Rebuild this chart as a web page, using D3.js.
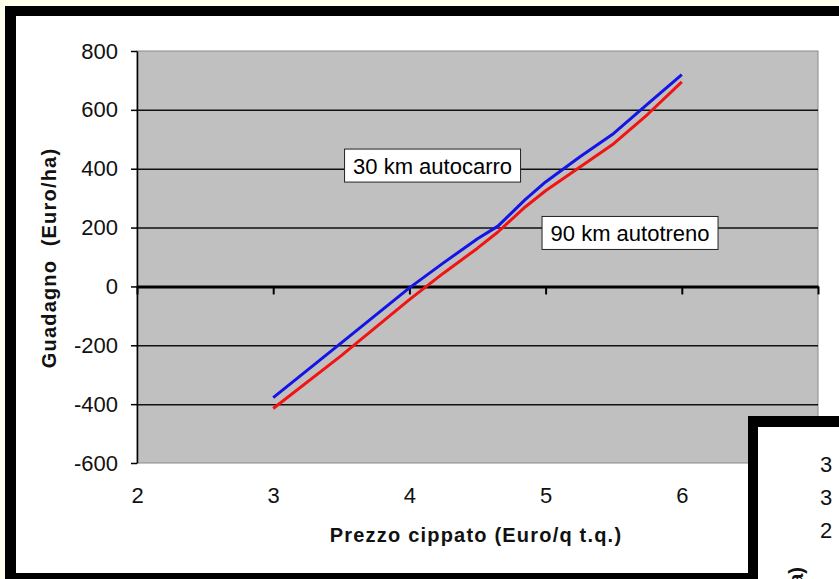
<!DOCTYPE html>
<meta charset="UTF-8">
<title>Guadagno vs prezzo cippato</title>
<style>
  html, body { margin: 0; overflow: hidden; background: #fffdeb; }
  svg { display: block; font-family: "Liberation Sans", Arial, sans-serif; }
</style>
<svg width="839" height="579"></svg>
<script src="https://d3js.org/d3.v7.min.js"></script>
<script>
// prezzo cippato (Euro/q t.q.)
var prezzo = [3, 3.5, 4, 4.25, 4.5, 4.65, 4.85, 5, 5.25, 5.5, 5.75, 6];
// guadagno (Euro/ha)
var km30autocarro = [-378, -192, -5, 80, 162, 205, 295, 355, 440, 520, 620, 720];
var km90autotreno = [-415, -235, -45, 45, 130, 185, 270, 325, 405, 485, 585, 695];

var xTicks = [2, 3, 4, 5, 6, 7];
var xTickLabels = ["2", "3", "4", "5", "6", ""];
var yTicks = [-600, -400, -200, 0, 200, 400, 600, 800];
var gridTicks = [-400, -200, 200, 400, 600];

var seriesNames = ["30 km autocarro", "90 km autotreno"];
// where the text boxes sit, in data units (x, y)
var labelPos = [[4.17, 409], [5.62, 180]];

var svg = d3.select("svg"),
    margin = {top: 51, left: 137},
    width = 681,
    height = 412;

// white card + black frame on top, left and bottom
svg.append("rect").attr("x", 5).attr("y", 6).attr("width", 834).attr("height", 573).attr("fill", "#fff");
svg.append("rect").attr("x", 5).attr("y", 6).attr("width", 834).attr("height", 10).attr("fill", "#000");
svg.append("rect").attr("x", 5).attr("y", 6).attr("width", 11).attr("height", 573).attr("fill", "#000");
svg.append("rect").attr("x", 5).attr("y", 573).attr("width", 834).attr("height", 6).attr("fill", "#000");

var g = svg.append("g").attr("transform", "translate(" + margin.left + "," + margin.top + ")");

var x = d3.scaleLinear().domain([2, 7]).range([0, width]);
var y = d3.scaleLinear().domain([-600, 800]).range([height, 0]);

g.append("rect")
    .attr("width", width)
    .attr("height", height)
    .attr("fill", "#c0c0c0")
    .attr("stroke", "#8a8a8a")
    .attr("stroke-width", 1);

// gridlines
g.append("g")
    .call(d3.axisLeft(y).tickValues(gridTicks).tickSize(-width).tickFormat(""))
    .call(function(s) { s.select(".domain").remove(); })
    .selectAll("line")
      .attr("stroke", "#111")
      .attr("stroke-width", 1.5);

// x axis crossing at 0
var xAxis = g.append("g")
    .attr("transform", "translate(0," + y(0) + ")")
    .call(d3.axisBottom(x).tickValues(xTicks).tickSize(8).tickSizeOuter(0).tickFormat(""));
xAxis.select(".domain").attr("stroke", "#000").attr("stroke-width", 3);
xAxis.selectAll("line").attr("stroke", "#000").attr("stroke-width", 2);

// x tick labels below plot
g.append("g")
    .attr("transform", "translate(0," + height + ")")
    .call(d3.axisBottom(x).tickValues(xTicks).tickSize(0).tickPadding(24)
      .tickFormat(function(d, i) { return xTickLabels[i]; }))
    .call(function(s) { s.select(".domain").remove(); })
    .selectAll("text")
      .attr("font-size", 22)
      .attr("font-family", "'Liberation Sans', Arial, sans-serif")
      .attr("fill", "#111");

// y axis
var yAxis = g.append("g")
    .call(d3.axisLeft(y).tickValues(yTicks).tickSize(6).tickSizeOuter(0).tickPadding(13)
      .tickFormat(function(d) { return String(d); }));
yAxis.select(".domain").attr("stroke", "#000").attr("stroke-width", 1.5);
yAxis.selectAll("line").attr("stroke", "#000").attr("stroke-width", 1.5);
yAxis.selectAll("text")
    .attr("font-size", 22)
    .attr("font-family", "'Liberation Sans', Arial, sans-serif")
    .attr("fill", "#111");

var line = function(vals) {
  return d3.line()
    .x(function(d, i) { return x(prezzo[i]); })
    .y(function(d) { return y(d); })(vals);
};

g.append("path")
    .attr("d", line(km90autotreno))
    .attr("fill", "none")
    .attr("stroke", "#f01414")
    .attr("stroke-width", 3)
    .attr("stroke-linejoin", "round");

g.append("path")
    .attr("d", line(km30autocarro))
    .attr("fill", "none")
    .attr("stroke", "#1414e6")
    .attr("stroke-width", 3)
    .attr("stroke-linejoin", "round");

// series text boxes
seriesNames.forEach(function(name, i) {
  var cx = x(labelPos[i][0]), cy = y(labelPos[i][1]);
  var lg = g.append("g").attr("transform", "translate(" + cx + "," + cy + ")");
  lg.append("rect")
      .attr("x", -88)
      .attr("y", -17)
      .attr("width", 176)
      .attr("height", 33)
      .attr("fill", "#fff")
      .attr("stroke", "#222")
      .attr("stroke-width", 1);
  lg.append("text")
      .attr("text-anchor", "middle")
      .attr("dy", "0.36em")
      .attr("font-size", 22)
      .attr("fill", "#000")
      .text(name);
});

// axis titles
svg.append("text")
    .attr("x", 476)
    .attr("y", 542)
    .attr("text-anchor", "middle")
    .attr("font-size", 20)
    .attr("font-weight", "bold")
    .attr("letter-spacing", 1.2)
    .attr("fill", "#111")
    .text("Prezzo cippato (Euro/q t.q.)");

svg.append("text")
    .attr("transform", "translate(56,258) rotate(-90)")
    .attr("text-anchor", "middle")
    .attr("font-size", 20)
    .attr("font-weight", "bold")
    .attr("letter-spacing", 1.2)
    .attr("fill", "#111")
    .style("white-space", "pre")
    .text("Guadagno  (Euro/ha)");

// the next chart peeking in at the bottom right
var inset = svg.append("g").attr("transform", "translate(748,416)");
inset.append("rect").attr("width", 91).attr("height", 163).attr("fill", "#000");
inset.append("rect").attr("x", 10).attr("y", 11).attr("width", 81).attr("height", 152).attr("fill", "#fff");
["3", "3", "2"].forEach(function(s, i) {
  inset.append("text")
      .attr("x", 72)
      .attr("y", 56 + i * 33)
      .attr("font-size", 22)
      .attr("fill", "#111")
      .text(s);
});
inset.append("text")
    .attr("transform", "translate(55,151) rotate(-90)")
    .attr("text-anchor", "end")
    .attr("font-size", 20)
    .attr("font-weight", "bold")
    .attr("fill", "#111")
    .text("(Euro/ha)");
</script>
